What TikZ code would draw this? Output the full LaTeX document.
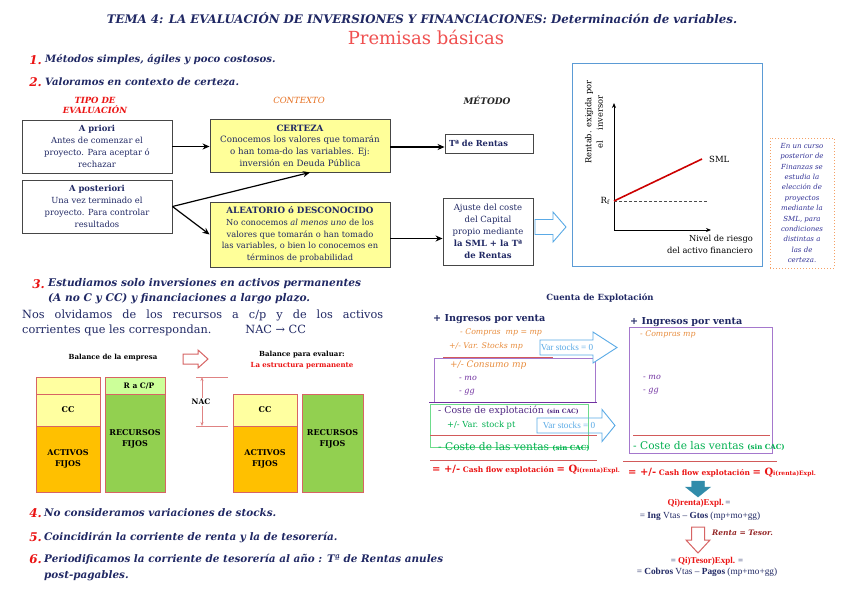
\documentclass[tikz,border=0pt]{standalone}
\usepackage{fontspec}
\setmainfont{DejaVu Serif}
\newfontfamily\timesf{Liberation Serif}
\usetikzlibrary{arrows.meta,calc}
\definecolor{navy}{RGB}{32,40,100}
\definecolor{tred}{RGB}{235,20,20}
\definecolor{pinkt}{RGB}{240,80,80}
\definecolor{ctxor}{RGB}{230,110,30}
\definecolor{ylw}{RGB}{255,255,153}
\definecolor{bgray}{RGB}{70,70,70}
\definecolor{gblue}{RGB}{91,155,213}
\definecolor{dotor}{RGB}{245,160,100}
\definecolor{ortxt}{RGB}{232,140,60}
\definecolor{purp}{RGB}{112,48,160}
\definecolor{purpbox}{RGB}{165,120,205}
\definecolor{purpnavy}{RGB}{80,40,130}
\definecolor{grn}{RGB}{0,176,80}
\definecolor{grnbox}{RGB}{110,220,140}
\definecolor{redline}{RGB}{210,90,90}
\definecolor{lblue}{RGB}{90,170,230}
\definecolor{tealc}{RGB}{49,140,170}
\definecolor{balred}{RGB}{215,100,100}
\definecolor{lyel}{RGB}{255,255,160}
\definecolor{lgrn}{RGB}{204,255,153}
\definecolor{orgc}{RGB}{255,192,0}
\definecolor{grnc}{RGB}{146,208,80}
\definecolor{darkred}{RGB}{150,40,40}
\definecolor{notec}{RGB}{50,50,150}
\newcommand\fsz[2]{\fontsize{#1}{#2}\selectfont}
% hollow right arrow: x1, xs, x2, yc, shaft half, head half, style
\newcommand\harrowR[7]{\draw[#7] (#1,#4-#5) -- (#2,#4-#5) -- (#2,#4-#6) -- (#3,#4) -- (#2,#4+#6) -- (#2,#4+#5) -- (#1,#4+#5) -- cycle;}
% down arrow: y1, ys, y2, xc, shaft half, head half, style
\newcommand\harrowD[7]{\draw[#7] (#4-#5,#1) -- (#4-#5,#2) -- (#4-#6,#2) -- (#4,#3) -- (#4+#6,#2) -- (#4+#5,#2) -- (#4+#5,#1) -- cycle;}
\begin{document}
\begin{tikzpicture}[x=1pt,y=-1pt,
  every node/.style={inner sep=0pt},
  num/.style={text=tred, font=\fsz{12}{14}\bfseries\itshape, anchor=east},
  item/.style={text=navy, font=\fsz{10.1}{11}\bfseries\itshape, anchor=west},
  wbox/.style={draw=bgray, line width=0.9pt, fill=white, align=center, text=navy, font=\fsz{8.4}{11.8}},
  ybox/.style={wbox, fill=ylw},
  arr/.style={-{Stealth[length=7pt,width=6pt]}, line width=1.2pt, black},
  balbox/.style={draw=balred, line width=1pt, align=center, font=\fsz{8}{11}\bfseries},
  acc/.style={anchor=west},
  rline/.style={draw=redline, line width=1pt},
  vstxt/.style={text=lblue, font=\timesf\fsz{9.2}{10}},
  harr/.style={draw=lblue, line width=0.9pt}
]
\useasboundingbox (0,0) rectangle (848,597);
\fill[white] (0,0) rectangle (848,597);

% ---------- header
\node[text=navy, font=\fsz{11.8}{13}\bfseries\itshape] (title) at (422,18) {TEMA 4: LA EVALUACIÓN DE INVERSIONES Y FINANCIACIONES: Determinación de variables.};
\node[text=pinkt, font=\fsz{18}{20}] (prem) at (426,37) {Premisas básicas};

\node[num] (n1) at (42,60) {1.};
\node[item] (t1) at (45,60) {Métodos simples, ágiles y poco costosos.};
\node[num] (n2) at (42,82) {2.};
\node[item] (t2) at (45,82) {Valoramos en contexto de certeza.};

% ---------- column headers
\node[text=tred, font=\fsz{8.5}{10.5}\bfseries\itshape, align=center] (h1) at (95,105.5) {TIPO DE\\EVALUACIÓN};
\node[text=ctxor, font=\fsz{8.5}{10}\itshape] (h2) at (299,100) {CONTEXTO};
\node[text=black!85, font=\fsz{9}{10}\bfseries\itshape] (h3) at (487,100) {MÉTODO};

% ---------- boxes
\node[wbox, minimum width=150, minimum height=53] (apriori) at (97,146.5) {\textbf{A priori}\\Antes de comenzar el\\proyecto. Para aceptar ó\\rechazar};
\node[wbox, minimum width=150, minimum height=53] (apost) at (97,206.5) {\textbf{A posteriori}\\Una vez terminado el\\proyecto. Para controlar\\resultados};
\node[ybox, minimum width=180, minimum height=53, font=\fsz{8.7}{11.7}] (cert) at (300,145.5) {\textbf{CERTEZA}\\Conocemos los valores que tomarán\\o han toma-do las variables. Ej:\\inversión en Deuda Pública};
\node[ybox, minimum width=180, minimum height=65, font=\fsz{8.3}{11.8}] (alea) at (300,234.5) {{\fsz{8.7}{11.8}\textbf{ALEATORIO ó DESCONOCIDO}}\\No conocemos \textit{al menos uno} de los\\valores que tomarán o han tomado\\las variables, o bien lo conocemos en\\términos de probabilidad};
\node[wbox, minimum width=88, minimum height=19, text width=80, align=left, font=\fsz{8.3}{10}] (trentas) at (489,143.5) {\textbf{Tª de Rentas}};
\node[wbox, minimum width=90, minimum height=67, font=\fsz{8.5}{12}] (ajuste) at (488,231.5) {Ajuste del coste\\del Capital\\propio mediante\\\textbf{la SML + la Tª}\\\textbf{de Rentas}};

\draw[arr] (apriori.east) -- (apriori.east -| cert.west);
\draw[arr] (apost.east) -- ([xshift=10pt]cert.south);
\draw[arr] (apost.east) -- (alea.west);
\draw[arr] ([yshift=-1.5pt]cert.east) -- ([yshift=-1.5pt]cert.east -| trentas.west);
\draw[arr] ([yshift=-4pt]alea.east) -- ([yshift=-4pt]alea.east -| ajuste.west);
\harrowR{535}{553}{566}{227}{7.5}{15}{harr}

% ---------- chart
\node[draw=gblue, line width=1pt, minimum width=190, minimum height=203] (chart) at (667,164.5) {};
\coordinate (O) at (614,230);
\draw[line width=0.8pt, -{Stealth[length=5pt,width=4pt]}] (O) -- (614,103);
\draw[line width=0.8pt, -{Stealth[length=5pt,width=4pt]}] (O) -- (711,230);
\node[font=\fsz{8.5}{10}, anchor=east] (rf) at (610,201) {R$_\mathrm{f}$};
\draw[densely dashed, black!70, line width=0.6pt] (614,201) -- (707,201);
\draw[red!80!black, line width=1.6pt] (614,201) -- (702,159);
\node[font=\fsz{8.5}{10}, anchor=west] (sml) at (709,159) {SML};
\node[font=\fsz{8.3}{11.5}, rotate=90, align=center] (ylab) at (594,122) {Rentab. exigida por\\el \quad inversor};
\node[font=\fsz{8.3}{12}, anchor=east, align=right] (xlab) at (753,244) {Nivel de riesgo\\del activo financiero};

\node[draw=dotor, dotted, line width=1pt, minimum width=64, minimum height=130, align=center, text=notec, font=\fsz{7}{10.4}\itshape] (note) at (802,203) {En un curso\\posterior de\\Finanzas se\\estudia la\\elección de\\proyectos\\mediante la\\SML, para\\condiciones\\distintas a\\las de\\certeza.};

% ---------- item 3
\node[num] (n3) at (45,284) {3.};
\node[item, font=\fsz{10.6}{15}\bfseries\itshape, align=left] (t3) at (48,291.5) {Estudiamos solo inversiones en activos permanentes\\(A no C y CC) y financiaciones a largo plazo.};
\node[anchor=north west, text=navy, font=\fsz{11.3}{15}, text width=361, align=justify] (olv) at (22,310) {Nos olvidamos de los recursos a c/p y de los activos\linebreak corrientes que les correspondan.\hspace{34pt}NAC → CC};

% ---------- balances
\node[font=\fsz{7}{9}\bfseries] (bal1) at (113,358) {Balance de la empresa};
\harrowR{183}{198}{208}{359}{5}{9}{draw=balred, line width=1pt}
\node[font=\fsz{7}{9}\bfseries] (bal2) at (302,355) {Balance para evaluar:};
\node[font=\fsz{7}{9}\bfseries, text=tred] (bal3) at (302,366) {La estructura permanente};

\node[balbox, fill=lyel, minimum width=64, minimum height=17] (l1a) at (68,385.5) {};
\node[balbox, fill=lyel, minimum width=64, minimum height=32] (l1cc) at (68,410) {CC};
\node[balbox, fill=orgc, minimum width=64, minimum height=66] (l1af) at (68,459) {ACTIVOS\\FIJOS};
\node[balbox, fill=lgrn, minimum width=60, minimum height=17] (l1rc) at (135,385.5) {};
\node[font=\fsz{7.5}{9}\bfseries] (rcp) at (139,386) {R a C/P};
\node[balbox, fill=grnc, minimum width=60, minimum height=98] (l1rf) at (135,443) {};
\node[font=\fsz{8}{11}\bfseries, align=center] (rf1) at (135,438.5) {RECURSOS\\FIJOS};

\node[balbox, fill=lyel, minimum width=64, minimum height=32] (l2cc) at (265,410) {CC};
\node[balbox, fill=orgc, minimum width=64, minimum height=66] (l2af) at (265,459) {ACTIVOS\\FIJOS};
\node[balbox, fill=grnc, minimum width=61, minimum height=98] (l2rf) at (332.5,443) {};
\node[font=\fsz{8}{11}\bfseries, align=center] (rf2) at (332.5,438.5) {RECURSOS\\FIJOS};

\coordinate (nacT) at (202,377);
\coordinate (nacB) at (202,426);
\draw[balred!80, line width=0.7pt] (196,377) -- (228,377);
\draw[balred!80, line width=0.7pt] (196,426) -- (228,426);
\draw[balred!80, line width=0.6pt, {Stealth[length=4pt,width=3pt]}-{Stealth[length=4pt,width=3pt]}] (nacT) -- (nacB);
\node[fill=white, inner sep=1.5pt, font=\fsz{7.5}{9}\bfseries] (nac) at (201,402) {NAC};

% ---------- Cuenta de explotacion
\node[text=navy, font=\fsz{8.5}{10}\bfseries] (cta) at (600,298) {Cuenta de Explotación};

% left account
\draw[rline] (443,357) -- (553,357);
\draw[draw=purpbox, line width=1pt] (434,358) rectangle (595,402);
\draw[draw=purp, line width=1pt] (429,402) -- (597,402);
\draw[draw=grnbox, line width=1pt] (430,404) rectangle (588,447);
\draw[rline] (430,435) -- (597,435);
\draw[rline] (430,460) -- (597,460);

\node[acc, text=navy, font=\fsz{9.6}{11}\bfseries] (ing1) at (433,319) {+ Ingresos por venta};
\node[acc, text=ortxt, font=\fsz{7.8}{9}\itshape] (comp1) at (460,332) {- Compras \ mp = mp};
\node[acc, text=ortxt, font=\fsz{7.8}{9}\itshape] (vsm1) at (449,346) {+/- Var. Stocks mp};
\node[acc, text=ortxt, font=\fsz{9}{10}\itshape] (cons1) at (450,365) {+/- Consumo mp};
\node[acc, text=purp, font=\fsz{8}{9}\itshape] (mo1) at (459,378) {- mo};
\node[acc, text=purp, font=\fsz{8}{9}\itshape] (gg1) at (459,392) {- gg};
\node[acc, text=purpnavy, font=\fsz{9.4}{10}] (cex1) at (438,411) {- Coste de explotación {\fsz{6}{7}\bfseries(sin CAC)}};
\node[acc, text=grn, font=\fsz{8.3}{9}] (vpt1) at (447,425) {+/- Var. stock pt};
\node[acc, text=grn, font=\fsz{10.6}{11}] (cv1) at (438,447) {- Coste de las ventas {\fsz{7}{8}\bfseries(sin CAC)}};
\node[acc, text=tred, font=\fsz{7.5}{10}\bfseries] (cf1) at (432,470) {{\fsz{10}{11}= +/-} Cash flow explotación {\fsz{10}{11}= Q}{\fsz{6}{7}i(renta)Expl.}};

\harrowR{540}{593}{617}{347.5}{7.5}{15.5}{harr, fill=white}
\node[vstxt] (vs1) at (567,347.5) {Var stocks = 0};
\harrowR{537}{602}{615}{425.5}{7.5}{16}{harr}
\node[vstxt] (vs2) at (569,425.5) {Var stocks = 0};

% right account
\draw[draw=purpbox, line width=1pt] (629,327) rectangle (772,453);
\draw[rline] (633,435) -- (770,435);
\draw[rline] (623,461) -- (777,461);
\node[acc, text=navy, font=\fsz{9.6}{11}\bfseries] (ing2) at (630,322) {+ Ingresos por venta};
\node[acc, text=ortxt, font=\fsz{7.8}{9}\itshape] (comp2) at (640,334) {- Compras mp};
\node[acc, text=purp, font=\fsz{8}{9}\itshape] (mo2) at (643,377) {- mo};
\node[acc, text=purp, font=\fsz{8}{9}\itshape] (gg2) at (643,391) {- gg};
\node[acc, text=grn, font=\fsz{10.6}{11}] (cv2) at (633,446) {- Coste de las ventas {\fsz{7}{8}\bfseries(sin CAC)}};
\node[acc, text=tred, font=\fsz{7.5}{10}\bfseries] (cf2) at (628,473) {{\fsz{10}{11}= +/-} Cash flow explotación {\fsz{10}{11}= Q}{\fsz{6}{7}i(renta)Expl.}};

\harrowD{481}{487}{497}{698}{6.5}{12.5}{fill=tealc, draw=tealc}
\node[text=navy, font=\timesf\fsz{9}{10}] (qr) at (699,503) {{\color{tred}\bfseries Qi)renta)Expl.}\,=};
\node[text=navy, font=\timesf\fsz{9.3}{10}] (ing) at (700,516) {= \textbf{Ing} Vtas – \textbf{Gtos} (mp+mo+gg)};
\harrowD{527}{540}{553}{698}{6.5}{12}{draw=balred, line width=1pt, fill=white}
\node[anchor=west, text=darkred, font=\fsz{7.5}{9}\bfseries\itshape] (rt) at (712,533) {Renta = Tesor.};
\node[text=navy, font=\timesf\fsz{9}{10}] (qt) at (707,561) {= {\color{tred}\bfseries Qi)Tesor)Expl.} =};
\node[text=navy, font=\timesf\fsz{9.3}{10}] (cob) at (707,572) {= \textbf{Cobros} Vtas – \textbf{Pagos} (mp+mo+gg)};

% ---------- items 4-6
\node[num] (n4) at (42,513) {4.};
\node[item, font=\fsz{10.4}{11}\bfseries\itshape] (t4) at (44,513) {No consideramos variaciones de stocks.};
\node[num] (n5) at (42,537) {5.};
\node[item, font=\fsz{10.4}{11}\bfseries\itshape] (t5) at (44,537) {Coincidirán la corriente de renta y la de tesorería.};
\node[num] (n6) at (42,559) {6.};
\node[item, align=left, font=\fsz{10.4}{16}\bfseries\itshape] (t6) at (44,567) {Periodificamos la corriente de tesorería al año : Tª de Rentas anules\\post-pagables.};
\end{tikzpicture}
\end{document}
